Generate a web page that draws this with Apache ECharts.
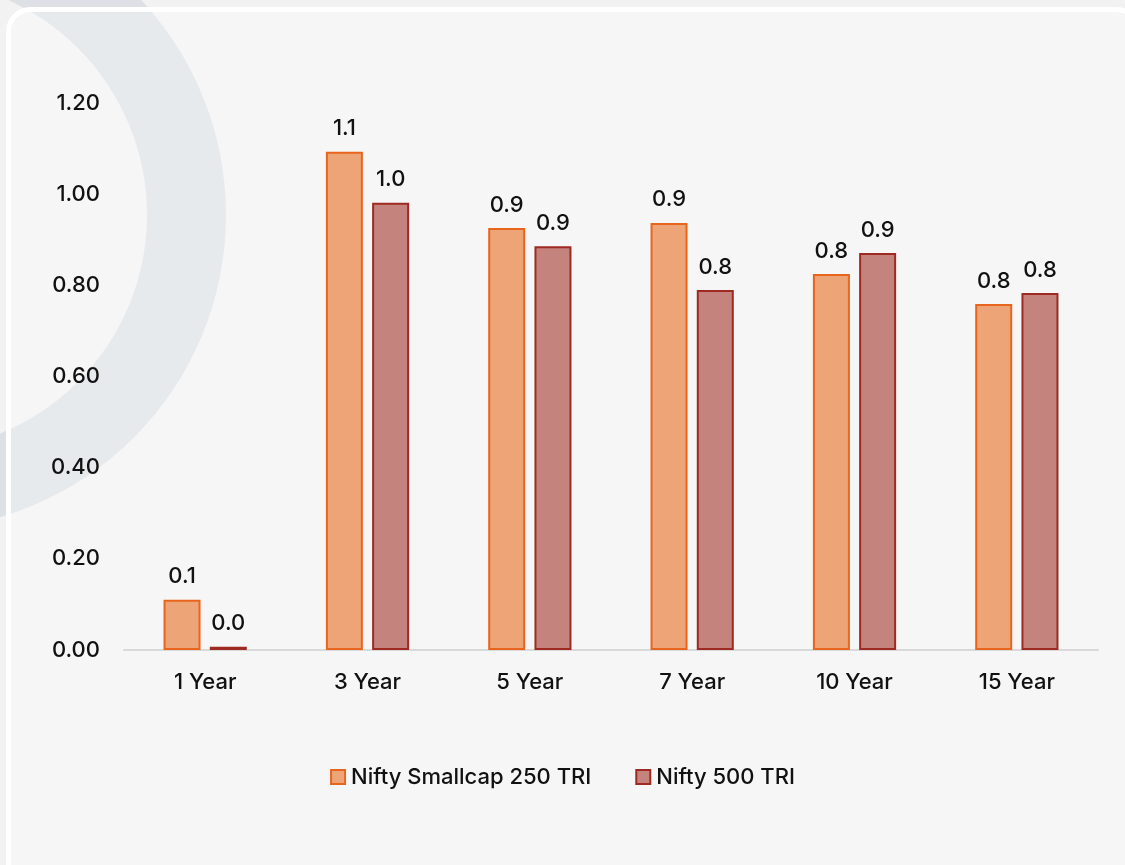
<!DOCTYPE html>
<html>
<head>
<meta charset="utf-8">
<script src="https://cdn.jsdelivr.net/npm/echarts@6/dist/echarts.min.js"></script>
<style>
  html, body { margin: 0; padding: 0; background: #f2f2f2; }
  #chart { width: 1125px; height: 865px; }
</style>
</head>
<body>
<div id="chart"></div>
<script>
// periods on the x axis
var periods = ['1 Year', '3 Year', '5 Year', '7 Year', '10 Year', '15 Year'];
// ratio values
var smallcap = [0.11, 1.093, 0.926, 0.937, 0.825, 0.759];
var nifty500 = [0.007, 0.981, 0.886, 0.790, 0.871, 0.783];

var font = 'Inter, "Noto Sans", sans-serif';
var txt = { fontSize: 22, color: '#111', fontFamily: font, fontWeight: 500 };
var chart = echarts.init(document.getElementById('chart'));

var option = {
  backgroundColor: '#f2f2f2',
  animation: false,
  textStyle: { fontFamily: font },
  graphic: [
    {
      type: 'ring',
      silent: true,
      shape: { cx: -89, cy: 215, r: 315, r0: 236 },
      style: { fill: '#dde1e5' }
    },
    {
      type: 'rect',
      silent: true,
      shape: { x: 8.5, y: 9.5, width: 1130, height: 875, r: 22 },
      style: { fill: 'rgba(255,255,255,0.3)', stroke: '#ffffff', lineWidth: 5 }
    }
  ],
  grid: { left: 124, right: 27, top: 103, bottom: 215 },
  legend: {
    bottom: 72,
    left: 'center',
    icon: 'rect',
    itemWidth: 14,
    itemHeight: 14,
    itemGap: 44,
    textStyle: Object.assign({}, txt, { padding: [0, 0, 0, 1] }),
    data: ['Nifty Smallcap 250 TRI', 'Nifty 500 TRI']
  },
  xAxis: {
    type: 'category',
    data: periods,
    axisLine: { lineStyle: { color: '#d9d9d9', width: 2 } },
    axisTick: { show: false },
    axisLabel: Object.assign({}, txt, { margin: 21 })
  },
  yAxis: {
    type: 'value',
    min: 0,
    max: 1.2,
    interval: 0.2,
    splitLine: { show: false },
    axisLabel: Object.assign({}, txt, {
      margin: 24,
      formatter: function (v) { return v.toFixed(2); }
    })
  },
  series: [
    {
      name: 'Nifty Smallcap 250 TRI',
      type: 'bar',
      data: smallcap,
      barWidth: 37,
      barGap: '25%',
      itemStyle: { color: '#eda477', borderColor: '#e8651e', borderWidth: 2 },
      label: Object.assign({}, txt, {
        show: true, position: 'top', distance: 12,
        formatter: function (p) { return p.value.toFixed(1); }
      })
    },
    {
      name: 'Nifty 500 TRI',
      type: 'bar',
      data: nifty500,
      barWidth: 37,
      itemStyle: { color: '#c4847d', borderColor: '#9e2a22', borderWidth: 2 },
      label: Object.assign({}, txt, {
        show: true, position: 'top', distance: 12,
        formatter: function (p) { return p.value.toFixed(1); }
      })
    }
  ]
};
chart.setOption(option);
</script>
</body>
</html>
